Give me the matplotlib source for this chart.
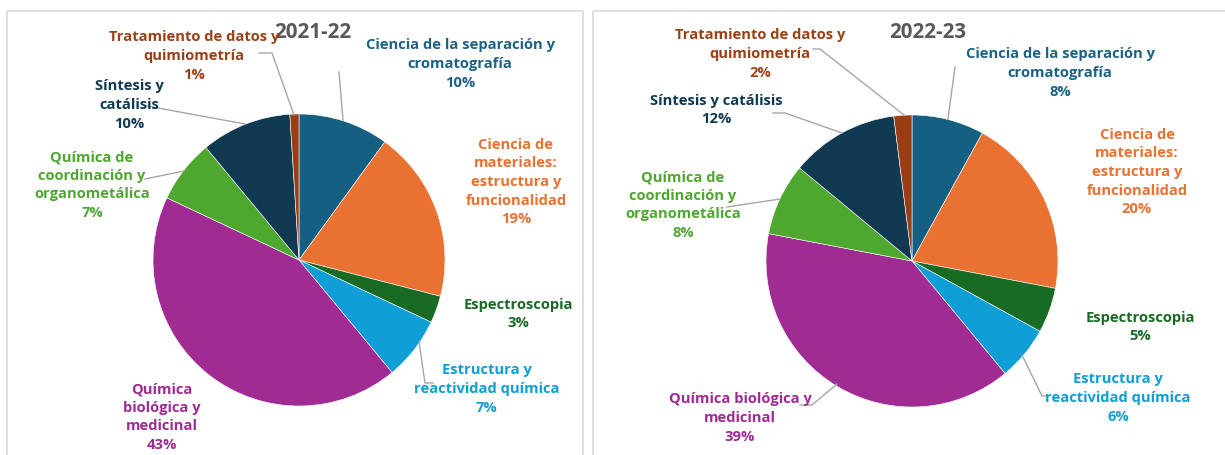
import matplotlib.pyplot as plt
from matplotlib.patches import Rectangle

W, H = 1225, 456

categories = [
    "Ciencia de la separación y\ncromatografía",
    "Ciencia de\nmateriales:\nestructura y\nfuncionalidad",
    "Espectroscopia",
    "Estructura y\nreactividad química",
    "Química\nbiológica y\nmedicinal",
    "Química de\ncoordinación y\norganometálica",
    "Síntesis y\ncatálisis",
    "Tratamiento de datos y\nquimiometría",
]
categories_2 = list(categories)
categories_2[4] = "Química biológica y\nmedicinal"
categories_2[6] = "Síntesis y catálisis"

values_2021 = [10, 19, 3, 7, 43, 7, 10, 1]
values_2022 = [8, 20, 5, 6, 39, 8, 12, 2]

colors = ["#156082", "#E97132", "#196B24", "#0F9ED5",
          "#A02B93", "#4EA72E", "#0F3A52", "#9B3D12"]
text_colors = ["#1A6384", "#E97132", "#196B24", "#0F9ED5",
               "#A02B93", "#4EA72E", "#0F3A52", "#9C4116"]

plt.rcParams["font.family"] = ["Open Sans", "DejaVu Sans"]

fig = plt.figure(figsize=(W / 100, H / 100), dpi=100)
ax = fig.add_axes([0, 0, 1, 1])

# panel frames
ax.add_patch(Rectangle((7, 12), 576, 460, fill=False, ec="#D9D9D9", lw=1.2))
ax.add_patch(Rectangle((593, 12), 640, 460, fill=False, ec="#D9D9D9", lw=1.2))

panels = [
    {
        "title": "2021-22", "title_xy": (313, 33), "center": (299, 261),
        "values": values_2021, "labels": categories,
        "label_xy": [(460, 64), (516, 182), (518, 314), (487, 389),
                     (162, 417), (92, 185), (129, 105), (194, 56)],
        "leaders": [
            [(339, 73), (343, 121)],
            [(419, 343), (425, 384), (433, 384)],
            [(147, 107), (245, 125)],
            [(145, 180), (184, 172)],
            [(259, 54), (272, 54), (294, 116)],
        ],
    },
    {
        "title": "2022-23", "title_xy": (928, 33), "center": (912, 262),
        "values": values_2022, "labels": categories_2,
        "label_xy": [(1060, 73), (1137, 172), (1140, 327), (1118, 398),
                     (740, 418), (683, 205), (716, 110), (760, 54)],
        "leaders": [
            [(955, 68), (948, 120)],
            [(1022, 356), (1042, 397), (1048, 397)],
            [(773, 114), (785, 114), (842, 134)],
            [(727, 208), (780, 200)],
            [(813, 50), (820, 50), (904, 116)],
            [(837, 385), (812, 406), (800, 406)],
        ],
    },
]

for p in panels:
    ax.pie(p["values"], colors=colors, center=p["center"], radius=146,
           startangle=-90, counterclock=True,
           wedgeprops={"linewidth": 0.4, "edgecolor": "white"})
    ax.text(*p["title_xy"], p["title"], ha="center", va="center",
            fontsize=14.8, fontweight="bold", color="#595959")
    for pts in p["leaders"]:
        xs = [q[0] for q in pts]
        ys = [q[1] for q in pts]
        ax.plot(xs, ys, color="#A6A6A6", lw=1.0, zorder=1)
    for lab, val, (x, y), c in zip(p["labels"], p["values"], p["label_xy"], text_colors):
        ax.text(x, y, f"{lab}\n{val}%", ha="center", va="center",
                fontsize=10.6, fontweight="bold", color=c, linespacing=1.42,
                zorder=5)

ax.set_xlim(0, W)
ax.set_ylim(H, 0)
ax.set_aspect("auto")
ax.axis("off")

fig.savefig("out.png", dpi=100)
